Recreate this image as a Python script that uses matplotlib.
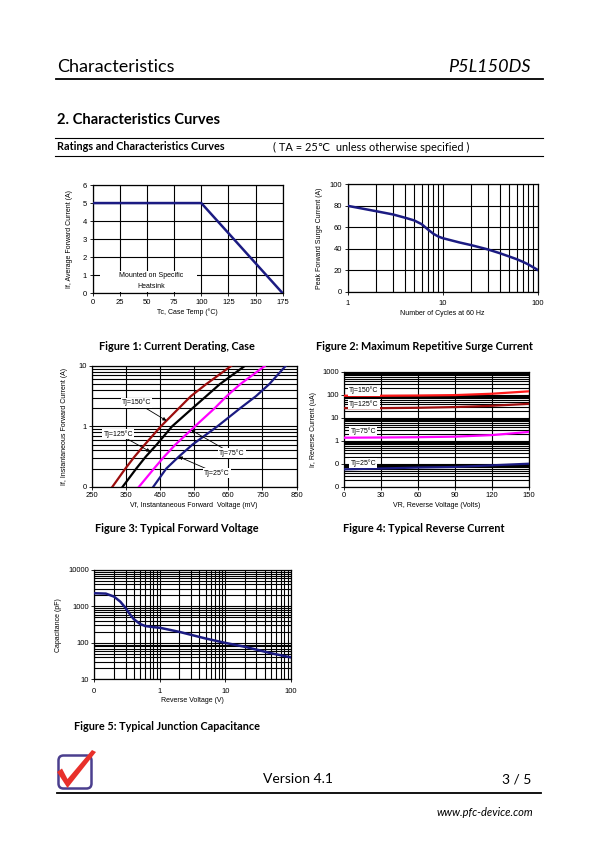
import numpy as np
import matplotlib
matplotlib.use("Agg")
import matplotlib.pyplot as plt
from matplotlib.lines import Line2D
from matplotlib.patches import FancyBboxPatch, Polygon, Rectangle
from matplotlib.ticker import FixedLocator, FixedFormatter, NullFormatter, LogLocator

W, H = 595, 842
NAVY = '#1b1b82'
DARKRED = '#9c0d0d'
RED = '#ff1a1a'
MAGENTA = '#ff00ff'
PAGE_FONT = ['Lato', 'DejaVu Sans']
PLOT_FONT = ['Liberation Sans', 'DejaVu Sans']

plt.rcParams['font.family'] = PLOT_FONT

# ---- Figure 1: current derating
case_temp = [0, 100, 175]
avg_current = [5, 5, 0]

# ---- Figure 2: surge current
cycles = [1, 2, 3, 4, 5, 6, 7, 8, 9, 10, 15, 20, 30, 40, 50, 60, 70, 80, 100]
surge = [80, 75, 72, 69, 66.5, 63, 58, 54, 51.5, 50, 46, 43.5, 39.5, 36, 33, 30.5, 28, 25.5, 20.5]

# ---- Figure 3: forward voltage (mV) at each current (A)
if_current = [0.1, 0.2, 0.316, 0.5, 1, 2, 3.16, 5, 10]
vf_150 = [310, 348, 375, 405, 452, 505, 540, 585, 658]
vf_125 = [340, 380, 408, 440, 485, 545, 585, 625, 698]
vf_75 = [388, 432, 462, 495, 552, 610, 645, 685, 757]
vf_25 = [430, 468, 505, 545, 618, 685, 731, 770, 818]

# ---- Figure 4: reverse current (uA)
vr = [0, 30, 60, 90, 120, 150]
ir_150 = [90, 90, 92, 96, 110, 140]
ir_125 = [26, 26, 27, 29, 33, 40]
ir_75 = [1.35, 1.38, 1.42, 1.5, 1.75, 2.4]
ir_25 = [0.057, 0.062, 0.068, 0.072, 0.085, 0.1]

# ---- Figure 5: junction capacitance
vr_cap = [0.1, 0.15, 0.2, 0.25, 0.3, 0.35, 0.4, 0.5, 0.6, 0.8, 1, 2, 5, 10, 20, 50, 100]
cap = [2300, 2250, 1860, 1350, 910, 610, 450, 330, 290, 270, 260, 200, 132, 100, 78, 52, 40]

fig = plt.figure(figsize=(W / 100, H / 100), dpi=100)


def px_axes(left, top, right, bottom):
    return fig.add_axes([left / W, 1 - bottom / H, (right - left) / W, (bottom - top) / H])


def ftext(x, y, s, **kw):
    kw.setdefault('family', PAGE_FONT)
    return fig.text(x / W, 1 - y / H, s, **kw)


def hline(y, x0, x1, lw=0.8):
    fig.add_artist(Line2D([x0 / W, x1 / W], [1 - y / H, 1 - y / H],
                          transform=fig.transFigure, color='black', lw=lw))


def style(ax, xlabel, ylabel, lpad=2):
    ax.tick_params(labelsize=5.5, length=2, width=0.6, pad=2)
    ax.tick_params(which='minor', length=0)
    for s in ax.spines.values():
        s.set_linewidth(0.9)
    ax.set_xlabel(xlabel, fontsize=5, labelpad=2)
    ax.set_ylabel(ylabel, fontsize=5, labelpad=lpad)


def log_labels(ax, axis, values, labels):
    a = ax.xaxis if axis == 'x' else ax.yaxis
    a.set_major_locator(FixedLocator(values))
    a.set_major_formatter(FixedFormatter(labels))
    a.set_minor_locator(LogLocator(base=10, subs=np.arange(2, 10)))
    a.set_minor_formatter(NullFormatter())


GRID = dict(color='black', lw=0.8)

# ---------------- Figure 1
ax1 = px_axes(92.7, 185, 282.7, 293.3)
ax1.plot(case_temp, avg_current, color=NAVY, lw=1.8, zorder=4)
ax1.set_xlim(0, 175)
ax1.set_ylim(0, 6)
ax1.set_xticks(range(0, 176, 25))
ax1.set_yticks(range(0, 7))
ax1.grid(True, **GRID)
ax1.add_patch(Rectangle((7, 0.05), 89, 1.2, fc='white', ec='none', zorder=2))
ax1.text(54, 0.96, 'Mounted on Specific', fontsize=5, ha='center', va='center', zorder=3)
ax1.text(54, 0.40, 'Heatsink', fontsize=5, ha='center', va='center', zorder=3)
style(ax1, 'Tc, Case Temp (\u00b0C)', 'If, Average Forward Current (A)', lpad=7)

# ---------------- Figure 2
ax2 = px_axes(347.7, 184.3, 537.7, 292)
ax2.plot(cycles, surge, color=NAVY, lw=1.8, zorder=4)
ax2.set_xscale('log')
ax2.set_xlim(1, 100)
ax2.set_ylim(0, 100)
ax2.set_yticks(range(0, 101, 20))
log_labels(ax2, 'x', [1, 10, 100], ['1', '10', '100'])
ax2.grid(True, which='both', **GRID)
style(ax2, 'Number of Cycles at 60 Hz', 'Peak Forward Surge Current (A)', lpad=5)
ax2.tick_params(axis='x', pad=4)

# ---------------- Figure 3
ax3 = px_axes(92, 366, 296.5, 486.7)
for vf, col in [(vf_150, DARKRED), (vf_125, 'black'), (vf_75, MAGENTA), (vf_25, NAVY)]:
    ax3.plot(vf, if_current, color=col, lw=1.6, zorder=4)
ax3.set_yscale('log')
ax3.set_xlim(250, 850)
ax3.set_ylim(0.1, 10)
ax3.set_xticks(range(250, 851, 100))
log_labels(ax3, 'y', [0.1, 1, 10], ['0', '1', '10'])
ax3.grid(True, which='both', **GRID)


def on_curve(vf, i):
    return np.interp(np.log10(i), np.log10(if_current), vf), i


ann = dict(fontsize=5, ha='center', va='center', zorder=5,
           bbox=dict(fc='white', ec='none', pad=0.8),
           arrowprops=dict(arrowstyle='-|>', color='black', lw=0.6, mutation_scale=5,
                           shrinkA=0, shrinkB=0))
ax3.annotate('Tj=150\u00b0C', xy=on_curve(vf_150, 1.24), xytext=(381, 2.47), **ann)
ax3.annotate('Tj=125\u00b0C', xy=on_curve(vf_125, 0.38), xytext=(327, 0.75), **ann)
ax3.annotate('Tj=75\u00b0C', xy=on_curve(vf_75, 0.87), xytext=(660, 0.357), **ann)
ax3.annotate('Tj=25\u00b0C', xy=on_curve(vf_25, 0.314), xytext=(616, 0.167), **ann)
style(ax3, 'Vf, Instantaneous Forward  Voltage (mV)', 'If, Instantaneous Forward Current (A)', lpad=7)

# ---------------- Figure 4
ax4 = px_axes(344.3, 371.7, 528.7, 486.7)
for ir, col in [(ir_150, RED), (ir_125, DARKRED), (ir_75, MAGENTA), (ir_25, NAVY)]:
    ax4.plot(vr, ir, color=col, lw=1.6, zorder=4)
ax4.set_yscale('log')
ax4.set_xlim(0, 150)
ax4.set_ylim(0.01, 1000)
ax4.set_xticks(range(0, 151, 30))
log_labels(ax4, 'y', [0.01, 0.1, 1, 10, 100, 1000], ['0', '0', '1', '10', '100', '1000'])
ax4.grid(True, which='both', **GRID)
lab = dict(fontsize=5, ha='left', va='center', zorder=5, bbox=dict(fc='white', ec='none', pad=0.8))
ax4.text(4, 150, 'Tj=150\u00b0C', **lab)
ax4.text(4, 40, 'Tj=125\u00b0C', **lab)
ax4.text(5, 2.6, 'Tj=75\u00b0C', **lab)
ax4.text(5, 0.105, 'Tj=25\u00b0C', **lab)
style(ax4, 'VR, Reverse Voltage (Volts)', 'Ir, Reverse Current (uA)', lpad=4)

# ---------------- Figure 5
ax5 = px_axes(94.3, 570, 290.7, 679.3)
ax5.plot(vr_cap, cap, color=NAVY, lw=1.8, zorder=4)
ax5.set_xscale('log')
ax5.set_yscale('log')
ax5.set_xlim(0.1, 100)
ax5.set_ylim(10, 10000)
log_labels(ax5, 'x', [0.1, 1, 10, 100], ['0', '1', '10', '100'])
log_labels(ax5, 'y', [10, 100, 1000, 10000], ['10', '100', '1000', '10000'])
ax5.grid(True, which='both', **GRID)
style(ax5, 'Reverse Voltage (V)', 'Capacitance (pF)', lpad=4)
ax5.tick_params(axis='x', pad=4)

# ---------------- page text
ftext(57, 72, 'Characteristics', fontsize=13, va='baseline')
ftext(531, 72, 'P5L150DS', fontsize=13, va='baseline', ha='right', style='italic')
hline(79, 56, 543, lw=1.3)
ftext(57, 120, '2. Characteristics Curves', fontsize=10.6, weight='bold', va='center')
hline(138, 55, 543, lw=0.8)
ftext(57, 147, 'Ratings and Characteristics Curves', fontsize=7.8, weight='bold', va='center')
ftext(273, 147, '( TA = 25\u2103  unless otherwise specified )', fontsize=7.9, va='center')
hline(156, 55, 543, lw=0.8)

cap_kw = dict(fontsize=7.8, weight='bold', va='center')
ftext(177, 347, 'Figure 1: Current Derating, Case', ha='center', **cap_kw)
ftext(424, 347, 'Figure 2: Maximum Repetitive Surge Current', ha='center', **cap_kw)
ftext(177, 528, 'Figure 3: Typical Forward Voltage', ha='center', **cap_kw)
ftext(424, 528, 'Figure 4: Typical Reverse Current', ha='center', **cap_kw)
ftext(74, 726, 'Figure 5: Typical Junction Capacitance', ha='left', **cap_kw)

# footer logo
axl = px_axes(52, 745, 100, 795)
axl.set_xlim(52, 100)
axl.set_ylim(795, 745)
axl.axis('off')
axl.add_patch(FancyBboxPatch((58.5, 755.5), 33, 33, boxstyle='round,pad=0,rounding_size=5',
                             fc='white', ec='#4b3f8e', lw=1.8))
axl.add_patch(Polygon([(57, 772), (62, 768.5), (67.5, 779), (92, 750), (96, 752), (67.5, 788)],
                      closed=True, fc='#e8302b', ec='none'))

ftext(298, 779, 'Version 4.1', fontsize=10, ha='center', va='center')
ftext(531, 779, '3 / 5', fontsize=10, ha='right', va='center')
hline(793, 57, 541, lw=1.3)
ftext(533, 812, 'www.pfc-device.com', fontsize=8, ha='right', va='center', style='italic')

fig.savefig('out.png', dpi=100)
